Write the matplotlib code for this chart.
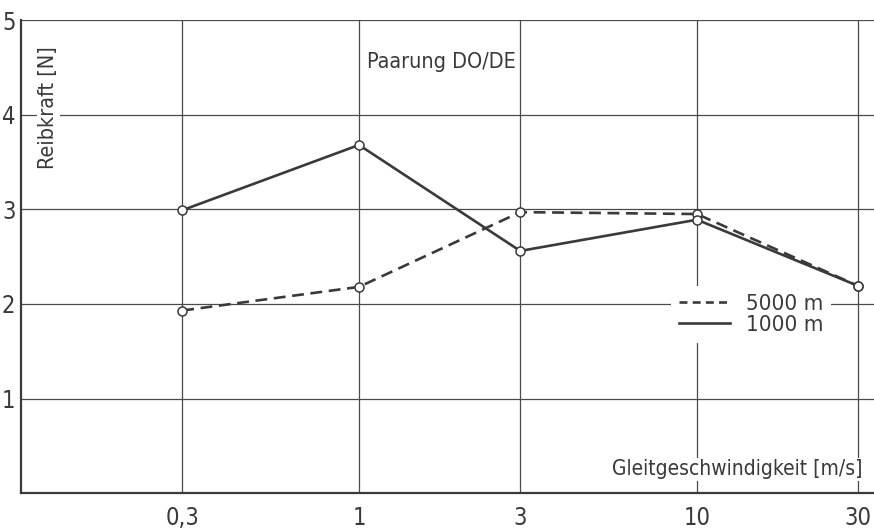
import matplotlib as mpl
import matplotlib.pyplot as plt
from matplotlib.lines import Line2D
from matplotlib.font_manager import FontProperties

mpl.rcParams.update({
    "font.family": ["DejaVu Sans"],
    "font.stretch": "condensed",
    "font.size": 15,
})

# data
speed = [0.3, 1, 3, 10, 30]              # Gleitgeschwindigkeit [m/s]
speed_labels = ["0,3", "1", "3", "10", "30"]
force_5000 = [1.93, 2.18, 2.97, 2.95, 2.19]
force_1000 = [2.99, 3.68, 2.56, 2.89, 2.19]
y_ticks = [1, 2, 3, 4, 5]

ink = "#3a3a3a"
grid_col = "#4a4a4a"

fig = plt.figure(figsize=(8.74, 5.28), dpi=100)
ax = fig.add_axes([0.024, 0.066, 0.976, 0.896])

ax.set_xscale("log")
ax.set_xlim(0.1, 33.4)
ax.set_ylim(0, 5)

ax.set_xticks(speed)
ax.set_xticklabels(speed_labels, fontsize=17)
ax.xaxis.set_minor_locator(mpl.ticker.NullLocator())
ax.set_yticks(y_ticks)
ax.set_yticklabels([str(v) for v in y_ticks], fontsize=17)
ax.tick_params(axis="x", length=0, pad=9, colors=ink)
ax.tick_params(axis="y", length=0, pad=4, colors=ink)

ax.grid(True, color=grid_col, linewidth=0.9, zorder=1)
ax.set_axisbelow(True)

for side in ("right", "top"):
    ax.spines[side].set_visible(False)
for side in ("left", "bottom"):
    ax.spines[side].set_linewidth(1.6)
    ax.spines[side].set_color(ink)

# curves
ax.plot(speed, force_5000, color=ink, lw=1.9, ls=(0, (4.5, 2.5)),
        marker="o", ms=6.5, mfc="white", mec=ink, mew=1.1, zorder=4)
ax.plot(speed, force_1000, color=ink, lw=1.9, ls="-",
        marker="o", ms=6.5, mfc="white", mec=ink, mew=1.1, zorder=5)

# legend (blanks out the grid behind it)
handles = [
    Line2D([], [], color=ink, lw=1.9, ls=(0, (3, 2))),
    Line2D([], [], color=ink, lw=1.9, ls="-"),
]
leg_font = FontProperties(family="DejaVu Sans", stretch="condensed", size=16)
leg = ax.legend(handles, ["5000 m", "1000 m"], loc="center",
                bbox_to_anchor=(0.856, 0.378), frameon=True, prop=leg_font,
                handlelength=2.3, handletextpad=0.7,
                labelspacing=0.05, borderpad=0.35, borderaxespad=0)
for t in leg.get_texts():
    t.set_color(ink)
leg.get_frame().set_facecolor("white")
leg.get_frame().set_edgecolor("none")
leg.get_frame().set_alpha(1)
leg.set_zorder(6)

# texts inside the plot
ax.text(0.493, 0.912, "Paarung DO/DE", transform=ax.transAxes,
        ha="center", va="center", fontsize=15.5, color=ink)
ax.text(0.032, 0.814, "Reibkraft [N]", transform=ax.transAxes,
        rotation=90, ha="center", va="center", fontsize=15.5, color=ink,
        bbox=dict(facecolor="white", edgecolor="none", pad=1))
ax.text(0.986, 0.05, "Gleitgeschwindigkeit [m/s]", transform=ax.transAxes,
        ha="right", va="center", fontsize=15, color=ink,
        bbox=dict(facecolor="white", edgecolor="none", pad=1))

fig.savefig("out.png", dpi=100)
